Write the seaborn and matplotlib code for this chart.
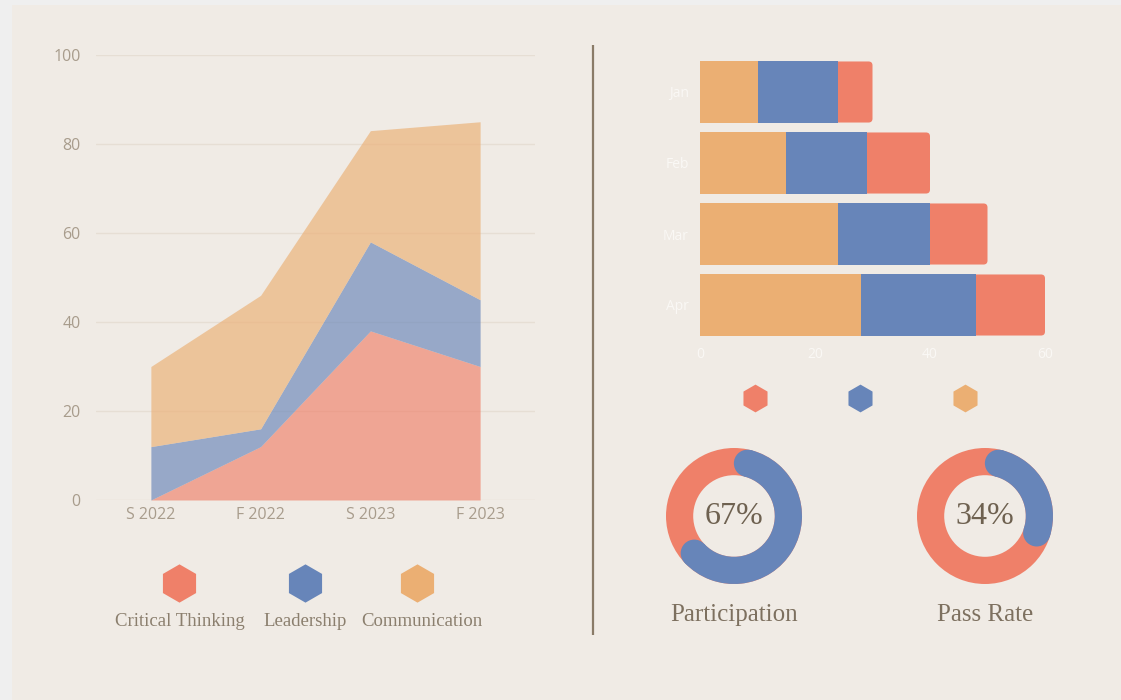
import numpy as np
import pandas as pd
import matplotlib
matplotlib.use("Agg")
import matplotlib.pyplot as plt
from matplotlib.patches import Rectangle, Wedge, Circle, FancyBboxPatch
import seaborn as sns

# ---------------- data ----------------
terms = ["S 2022", "F 2022", "S 2023", "F 2023"]
critical_thinking = [0, 12, 38, 30]
leadership = [12, 4, 20, 15]
communication = [18, 30, 25, 40]
skill_names = ["Critical Thinking", "Leadership", "Communication"]

months = ["Jan", "Feb", "Mar", "Apr"]
bar_orange = [10, 15, 24, 28]
bar_blue = [14, 14, 16, 20]
bar_red = [6, 11, 10, 12]

donut_labels = ["Participation", "Pass Rate"]
donut_values = [67, 34]

# ---------------- style ----------------
RED = "#ef8069"
BLUE = "#6785b9"
ORANGE = "#ebaf73"
PANEL = "#f0ebe5"
TICK = "#a89c8c"
LABEL = "#7d705f"
SERIF = ["Liberation Serif", "DejaVu Serif"]

sns.set_theme(style="white")
plt.rcParams["font.family"] = ["Open Sans", "DejaVu Sans"]

W, H = 1121, 700
fig = plt.figure(figsize=(W / 100, H / 100), dpi=100)
fig.patch.set_facecolor("#efefef")
fig.add_artist(Rectangle((12 / W, 0), 1, 1 - 5 / H, transform=fig.transFigure,
                         facecolor=PANEL, edgecolor="none", zorder=-10))

def fa(x0, y0, x1, y1):
    """figure axes from pixel box (top-left origin)"""
    return [x0 / W, 1 - y1 / H, (x1 - x0) / W, (y1 - y0) / H]

# ---------------- overlay (legends, divider) ----------------
ax0 = fig.add_axes([0, 0, 1, 1], zorder=0)
ax0.set_xlim(0, W)
ax0.set_ylim(H, 0)
ax0.axis("off")
ax0.patch.set_visible(False)
ax0.plot([593, 593], [45, 635], color="#8a7b68", lw=1.6, solid_capstyle="butt")

skill_colors = [RED, BLUE, ORANGE]
leg_x = [179, 305, 417]
leg_tx = [179.5, 305, 422]
for c, x, tx, name in zip(skill_colors, leg_x, leg_tx, skill_names):
    ax0.scatter([x], [583], marker="h", s=760, color=c, linewidths=0)
    ax0.text(tx, 622, name, ha="center", va="center", fontsize=13.5,
             color="#8b7f6e", family=SERIF)
for c, x in zip(skill_colors, [755, 860, 965]):
    ax0.scatter([x], [398], marker="h", s=400, color=c, linewidths=0)

# ---------------- stacked area ----------------
ax1 = fig.add_axes(fa(96, 55, 535, 500))
ax1.patch.set_visible(False)
xs = np.arange(len(terms))
ax1.stackplot(xs, critical_thinking, leadership, communication,
              colors=[RED, BLUE, ORANGE], alpha=0.65, linewidth=0)
ax1.set_xlim(-0.5, 3.5)
ax1.set_ylim(0, 100)
ax1.set_yticks(range(0, 101, 20))
ax1.set_xticks(xs)
ax1.set_xticklabels(terms)
ax1.grid(axis="y", color="#e6ded4", lw=1)
ax1.set_axisbelow(True)
ax1.tick_params(axis="both", length=0, colors=TICK, labelsize=11.5)
ax1.tick_params(axis="y", pad=11)
ax1.tick_params(axis="x", pad=5)
sns.despine(ax=ax1, left=True, bottom=True)

# ---------------- stacked horizontal bars ----------------
ax2 = fig.add_axes(fa(700, 56.5, 1045, 340.5))
ax2.patch.set_visible(False)
df = pd.DataFrame({"month": months, "orange": bar_orange,
                   "blue": bar_blue, "red": bar_red})
df["ob"] = df["orange"] + df["blue"]
df["total"] = df["ob"] + df["red"]
sns.barplot(data=df, x="total", y="month", color=RED, width=0.86,
            saturation=1, ax=ax2, linewidth=0)
n_red = len(ax2.patches)
red_patches = list(ax2.patches)[:n_red]
sns.barplot(data=df, x="ob", y="month", color=BLUE, width=0.86,
            saturation=1, ax=ax2, linewidth=0)
sns.barplot(data=df, x="orange", y="month", color=ORANGE, width=0.86,
            saturation=1, ax=ax2, linewidth=0)
# round the right-hand ends of the full bars (drawn beneath the others)
for p in red_patches:
    x, y, w, h = p.get_x(), p.get_y(), p.get_width(), p.get_height()
    fb = FancyBboxPatch((x, y), w, h,
                        boxstyle="round,pad=0,rounding_size=0.7",
                        mutation_aspect=0.08, facecolor=RED,
                        edgecolor="none", zorder=p.get_zorder() - 0.5)
    p.set_visible(False)
    ax2.add_patch(fb)
ax2.set_xlim(0, 60)
ax2.set_ylim(3.5, -0.5)
ax2.set_xticks([0, 20, 40, 60])
ax2.set_xlabel("")
ax2.set_ylabel("")
ax2.tick_params(axis="both", length=0, colors="#faf8f5", labelsize=10)
ax2.tick_params(axis="y", pad=8)
ax2.tick_params(axis="x", pad=5)
sns.despine(ax=ax2, left=True, bottom=True)

# ---------------- donuts ----------------
R = 68
centers = [(734, 516), (985, 516)]
for (cx, cy), val, lab in zip(centers, donut_values, donut_labels):
    ax = fig.add_axes(fa(cx - 72, cy - 72, cx + 72, cy + 72))
    ax.pie([100], colors=[RED], radius=1, startangle=90,
           wedgeprops=dict(width=0.4, linewidth=0))
    ring_w = 0.4
    mid = 1 - ring_w / 2
    cap = np.degrees((ring_w / 2) / mid)
    a0 = cap
    a1 = val * 3.6 - cap
    ax.add_patch(Wedge((0, 0), 1, 90 - a1, 90 - a0, width=ring_w,
                       facecolor=BLUE, edgecolor="none"))
    for a in (a0, a1):
        t = np.radians(90 - a)
        ax.add_patch(Circle((mid * np.cos(t), mid * np.sin(t)), ring_w / 2,
                            facecolor=BLUE, edgecolor="none"))
    ax.set_xlim(-72 / R, 72 / R)
    ax.set_ylim(-72 / R, 72 / R)
    ax.set_aspect("equal")
    ax.axis("off")
    ax.text(0, 0, f"{val}%", ha="center", va="center", fontsize=23,
            color="#6e6150", family=SERIF)
    ax0.text(cx, 615, lab, ha="center", va="center", fontsize=18,
             color=LABEL, family=SERIF)

fig.savefig("out.png", dpi=100, facecolor=fig.get_facecolor())
